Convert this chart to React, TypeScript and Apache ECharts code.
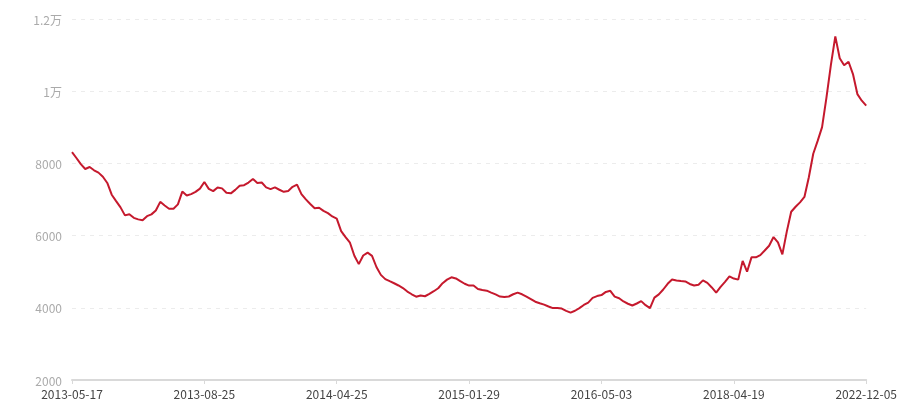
import React, { useEffect, useRef } from "react";
import * as echarts from "echarts";

const tickLabels = ["2013-05-17", "2013-08-25", "2014-04-25", "2015-01-29", "2016-05-03", "2018-04-19", "2022-12-05"];
const yTicks = [2000, 4000, 6000, 8000, 10000, 12000];

const seg1 = [8310, 8150, 7980, 7845, 7900, 7810, 7744, 7630, 7458, 7133, 6955, 6782, 6560, 6590, 6492, 6449, 6425, 6538, 6588, 6695, 6935, 6835, 6745, 6745, 6866, 7220, 7110, 7150, 7211, 7300, 7485];
const seg2 = [7295, 7232, 7335, 7308, 7186, 7170, 7267, 7380, 7397, 7470, 7570, 7460, 7470, 7336, 7289, 7335, 7270, 7212, 7237, 7351, 7410, 7150, 7003, 6874, 6758, 6773, 6685, 6623, 6530, 6470];
const seg3 = [6126, 5957, 5803, 5441, 5209, 5448, 5527, 5439, 5130, 4912, 4795, 4737, 4680, 4618, 4548, 4450, 4375, 4308, 4340, 4320, 4385, 4459, 4541, 4682, 4780, 4845, 4813, 4737, 4666, 4616];
const seg4 = [4620, 4522, 4493, 4475, 4420, 4370, 4312, 4297, 4313, 4375, 4419, 4374, 4309, 4242, 4169, 4128, 4088, 4035, 3992, 3994, 3978, 3914, 3868, 3918, 3991, 4078, 4145, 4275, 4325, 4352];
const seg5 = [4440, 4470, 4310, 4265, 4175, 4112, 4063, 4119, 4185, 4073, 3990, 4282, 4371, 4507, 4665, 4785, 4756, 4740, 4730, 4660, 4618, 4641, 4760, 4690, 4564, 4422, 4580, 4716, 4870, 4810];
const seg6 = [4780, 5300, 5000, 5398, 5398, 5460, 5586, 5720, 5960, 5812, 5480, 6110, 6660, 6800, 6921, 7070, 7616, 8268, 8623, 9004, 9830, 10730, 11520, 10913, 10720, 10815, 10474, 9920, 9737, 9600];

const values = [...seg1, ...seg2, ...seg3, ...seg4, ...seg5, ...seg6];
const STEP = 30;
const categories = values.map((_, i) => (i % STEP === 0 ? tickLabels[i / STEP] : ""));

export default function App() {
  const ref = useRef<HTMLDivElement>(null);
  useEffect(() => {
    if (!ref.current) return;
    const chart = echarts.init(ref.current, undefined, { renderer: "svg" });
    const font = "'Noto Sans CJK SC', 'Noto Sans', sans-serif";
    chart.setOption({
      animation: false,
      grid: { left: 72, right: 32, top: 19, bottom: 20, containLabel: false },
      xAxis: {
        type: "category",
        data: categories,
        boundaryGap: false,
        axisLine: { lineStyle: { color: "#d9d9d9", width: 2 } },
        axisTick: { show: true, interval: STEP - 1, length: 4, lineStyle: { color: "#d9d9d9" } },
        axisLabel: { interval: STEP - 1, color: "#444", fontSize: 12, lineHeight: 12, margin: 7, fontFamily: font },
        splitLine: { show: false },
      },
      yAxis: {
        type: "value",
        min: yTicks[0],
        max: yTicks[yTicks.length - 1],
        interval: 2000,
        axisLine: { show: false },
        axisTick: { show: false },
        axisLabel: {
          color: "#aaa",
          fontSize: 12,
          lineHeight: 12,
          margin: 10,
          fontFamily: font,
          formatter: (v: number) => (v >= 10000 ? `${v / 10000}万` : `${v}`),
        },
        splitLine: { lineStyle: { color: "#ececec", type: [4, 5], width: 1 } },
      },
      series: [
        {
          type: "line",
          data: values,
          showSymbol: false,
          symbol: "none",
          lineStyle: { color: "#c5192d", width: 2 },
          itemStyle: { color: "#c5192d" },
        },
      ],
    });
    return () => chart.dispose();
  }, []);
  return <div ref={ref} style={{ position: "fixed", left: 0, top: 0, width: 900, height: 400 }} />;
}
